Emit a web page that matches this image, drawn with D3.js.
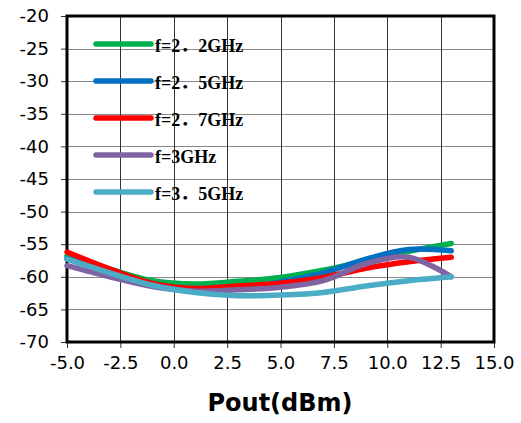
<!DOCTYPE html>
<html>
<head>
<meta charset="utf-8">
<script src="https://cdn.jsdelivr.net/npm/d3@7"></script>
<style>
  body { margin: 0; background: #fff; }
  svg { display: block; }
</style>
</head>
<body>
<svg id="chart"></svg>
<script>
// power sweep (dBm)
const pout = [-5, -3, -1, 1, 3, 5, 7, 9, 11, 13];

const series = ['f=2．2GHz', 'f=2．5GHz', 'f=2．7GHz', 'f=3GHz', 'f=3．5GHz'];
const colors = ['#00b050', '#0070c0', '#ff0000', '#8064a2', '#4bacc6'];

const f22 = [-56.8, -58.8, -60.6, -61.1, -60.7, -60.1, -59.0, -57.6, -56.1, -54.9];
const f25 = [-57.2, -59.2, -61.2, -62.0, -61.8, -60.8, -59.4, -57.3, -55.8, -56.0];
const f27 = [-56.2, -58.8, -61.0, -61.8, -61.4, -61.0, -60.1, -58.7, -57.7, -57.0];
const f30 = [-58.3, -60.0, -61.5, -62.2, -62.0, -61.6, -60.6, -58.0, -57.0, -60.0];
const f35 = [-57.3, -59.4, -61.3, -62.4, -62.9, -62.8, -62.4, -61.4, -60.6, -60.0];
const allValues = [f22, f25, f27, f30, f35];

const xTicks = [-5, -2.5, 0, 2.5, 5, 7.5, 10, 12.5, 15];
const yTicks = [-20, -25, -30, -35, -40, -45, -50, -55, -60, -65, -70];

const width = 521, height = 423;
const margin = {top: 16, right: 27, bottom: 81, left: 67};

const svg = d3.select('#chart')
  .attr('width', width)
  .attr('height', height);

const x = d3.scaleLinear().domain([-5, 15]).range([margin.left, width - margin.right]);
const y = d3.scaleLinear().domain([-70, -20]).range([height - margin.bottom, margin.top]);

// grid
svg.append('g')
  .selectAll('line')
  .data(yTicks)
  .join('line')
  .attr('x1', x(-5)).attr('x2', x(15))
  .attr('y1', d => Math.round(y(d)) + 0.5).attr('y2', d => Math.round(y(d)) + 0.5)
  .attr('stroke', '#888')
  .attr('stroke-width', 1);

svg.append('g')
  .selectAll('line')
  .data(xTicks)
  .join('line')
  .attr('x1', d => Math.round(x(d)) + 0.5).attr('x2', d => Math.round(x(d)) + 0.5)
  .attr('y1', y(-20)).attr('y2', y(-70))
  .attr('stroke', '#333')
  .attr('stroke-width', 1);

// axes
const xAxis = svg.append('g')
  .attr('transform', `translate(0,${y(-70)})`)
  .call(d3.axisBottom(x).tickValues(xTicks).tickFormat(d => d.toFixed(1)).tickSize(6).tickPadding(8));

const yAxis = svg.append('g')
  .attr('transform', `translate(${x(-5)},0)`)
  .call(d3.axisLeft(y).tickValues(yTicks).tickFormat(d => d).tickSize(6).tickPadding(12));

[xAxis, yAxis].forEach(g => {
  g.select('.domain').remove();
  g.selectAll('line').attr('stroke', '#333');
  g.selectAll('text')
    .attr('fill', '#000')
    .style('font-family', 'DejaVu Sans, Verdana, sans-serif')
    .style('font-size', '18px');
});

// plot border
svg.append('rect')
  .attr('x', x(-5)).attr('y', y(-20))
  .attr('width', x(15) - x(-5)).attr('height', y(-70) - y(-20))
  .attr('fill', 'none')
  .attr('stroke', '#000')
  .attr('stroke-width', 3);

// lines
const line = d3.line()
  .x((d, i) => x(pout[i]))
  .y(d => y(d))
  .curve(d3.curveCatmullRom);

svg.append('g')
  .selectAll('path')
  .data(allValues)
  .join('path')
  .attr('d', d => line(d))
  .attr('fill', 'none')
  .attr('stroke', (d, i) => colors[i])
  .attr('stroke-width', 5.5)
  .attr('stroke-linecap', 'round')
  .attr('stroke-linejoin', 'round');

// legend
const legend = svg.append('g')
  .selectAll('g')
  .data(series)
  .join('g')
  .attr('transform', (d, i) => `translate(96,${44 + i * 37})`);

legend.append('line')
  .attr('x1', 0).attr('x2', 55)
  .attr('stroke', (d, i) => colors[i])
  .attr('stroke-width', 5.5)
  .attr('stroke-linecap', 'round');

legend.append('text')
  .attr('x', 59)
  .attr('y', 8)
  .text(d => d)
  .style('font-family', 'Liberation Serif, Noto Sans CJK SC, serif')
  .style('font-size', '18px')
  .style('font-weight', 'bold');

// x title
svg.append('text')
  .attr('x', 280)
  .attr('y', 411)
  .attr('text-anchor', 'middle')
  .text('Pout(dBm)')
  .style('font-family', 'DejaVu Sans, Verdana, sans-serif')
  .style('font-size', '24px')
  .style('font-weight', 'bold');
</script>
</body>
</html>
